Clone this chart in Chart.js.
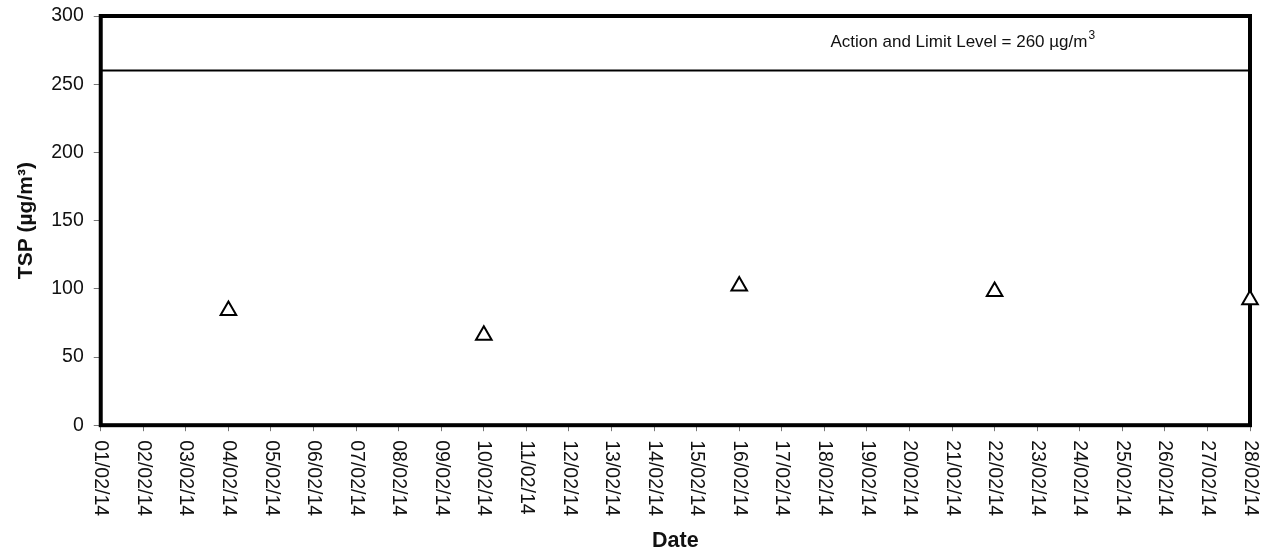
<!DOCTYPE html>
<html lang="en">
<head>
  <meta charset="UTF-8">
  <title>TSP</title>
  <script src="https://cdn.jsdelivr.net/npm/chart.js"></script>
  <style>
    body { margin: 0; background: #fff; }
    #chart-container { width: 1261px; height: 556px; }
  </style>
</head>
<body>
  <div id="chart-container">
    <canvas id="tspChart"></canvas>
  </div>
  <script>
    const dates = ['01/02/14','02/02/14','03/02/14','04/02/14','05/02/14','06/02/14','07/02/14',
      '08/02/14','09/02/14','10/02/14','11/02/14','12/02/14','13/02/14','14/02/14',
      '15/02/14','16/02/14','17/02/14','18/02/14','19/02/14','20/02/14','21/02/14',
      '22/02/14','23/02/14','24/02/14','25/02/14','26/02/14','27/02/14','28/02/14'];
    const sampleDates = ['04/02/14', '10/02/14', '16/02/14', '22/02/14', '28/02/14'];
    const tspValues = [84, 66, 102, 98, 92];
    const limitLevel = 260;
    const yTicks = [0, 50, 100, 150, 200, 250, 300];

    const fontFamily = '"Liberation Sans", Arial, sans-serif';

    // frame goes under the markers
    const frame = {
      id: 'frame',
      beforeDatasetsDraw(chart) {
        const c = chart.ctx;
        const area = chart.chartArea;
        c.save();
        c.strokeStyle = '#000';
        c.lineWidth = 4;
        c.strokeRect(area.left, area.top, area.right - area.left, area.bottom - area.top);
        c.restore();
      }
    };

    // labels read top-to-bottom, so draw them ourselves
    const customLabels = {
      id: 'customLabels',
      afterDraw(chart) {
        const c = chart.ctx;
        const xs = chart.scales.x;
        const area = chart.chartArea;
        c.save();
        c.fillStyle = '#111';
        c.font = '19.5px ' + fontFamily;
        c.textAlign = 'left';
        c.textBaseline = 'middle';
        dates.forEach((d, i) => {
          c.save();
          c.translate(xs.getPixelForTick(i), area.bottom + 15);
          c.rotate(Math.PI / 2);
          c.fillText(d, 0, 0);
          c.restore();
        });
        // annotation
        const tx = area.left + (area.right - area.left) * 0.635;
        const ty = chart.scales.y.getPixelForValue(277.3);
        c.font = '17px ' + fontFamily;
        c.textAlign = 'left';
        c.textBaseline = 'alphabetic';
        const main = 'Action and Limit Level = ' + limitLevel + ' \u00b5g/m';
        c.fillText(main, tx, ty);
        const w = c.measureText(main).width;
        c.font = '12px ' + fontFamily;
        c.fillText('3', tx + w + 1, ty - 8);
        c.restore();
      }
    };

    const ctx = document.getElementById('tspChart').getContext('2d');
    new Chart(ctx, {
      type: 'line',
      data: {
        labels: dates,
        datasets: [
          {
            label: 'TSP',
            data: sampleDates.map((d, i) => ({ x: d, y: tspValues[i] })),
            showLine: false,
            clip: false,
            pointStyle: 'triangle',
            pointRadius: 9,
            pointBackgroundColor: '#fff',
            pointBorderColor: '#000',
            pointBorderWidth: 2
          },
          {
            label: 'Limit',
            data: dates.map(() => limitLevel),
            borderColor: '#000',
            borderWidth: 2,
            pointRadius: 0,
            fill: false
          }
        ]
      },
      options: {
        responsive: true,
        maintainAspectRatio: false,
        animation: false,
        layout: { padding: { left: 14, right: 11, top: 16, bottom: 2 } },
        plugins: { legend: { display: false }, tooltip: { enabled: false } },
        scales: {
          x: {
            type: 'category',
            offset: false,
            grid: { display: true, drawOnChartArea: false, tickLength: 6, color: '#777' },
            border: { display: false },
            ticks: { display: false, autoSkip: false },
            title: {
              display: true, text: 'Date', color: '#111',
              font: { size: 21.5, weight: 'bold', family: fontFamily },
              padding: { top: 97, bottom: 0 }
            }
          },
          y: {
            min: 0, max: 300,
            afterBuildTicks(scale) { scale.ticks = yTicks.map(v => ({ value: v })); },
            grid: { display: true, drawOnChartArea: false, tickLength: 7, color: '#777' },
            border: { display: false },
            ticks: {
              color: '#111', padding: 10,
              font: { size: 19.5, family: fontFamily, lineHeight: 0.5 }
            },
            title: {
              display: true, text: 'TSP (\u00b5g/m\u00b3)', color: '#111',
              font: { size: 21, weight: 'bold', family: fontFamily },
              padding: { top: 0, bottom: 2 }
            }
          }
        }
      },
      plugins: [frame, customLabels]
    });
  </script>
</body>
</html>
